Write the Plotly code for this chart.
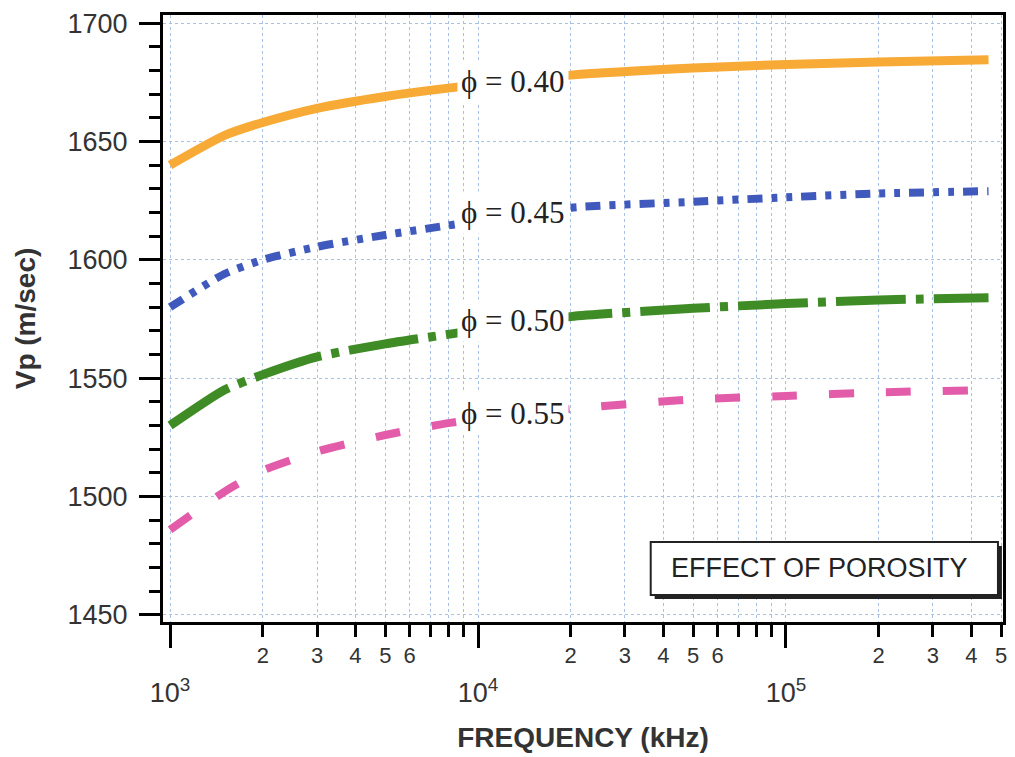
import plotly.graph_objects as go

# Frequency samples (kHz) and P-wave velocity (m/sec) for each porosity
freq_khz = [1000, 1500, 2000, 3000, 5000, 8000, 20000, 50000, 100000, 200000, 455000]
vp_phi040 = [1640, 1652.5, 1658, 1664, 1669, 1672.5, 1678, 1681, 1682.5, 1683.5, 1684.5]
vp_phi045 = [1580, 1594, 1600, 1605.5, 1610.5, 1614.5, 1622, 1624.5, 1626.4, 1628, 1629]
vp_phi050 = [1530, 1545, 1551.5, 1559, 1564.5, 1568.5, 1576, 1579.5, 1581.5, 1583, 1584]
vp_phi055 = [1486, 1502, 1511, 1519, 1526, 1531, 1537, 1541, 1542.5, 1544, 1545]

curve_labels = ["\u03d5 = 0.40", "\u03d5 = 0.45", "\u03d5 = 0.50", "\u03d5 = 0.55"]
label_vp = [1675.5, 1620, 1574.5, 1535]
label_freq_log = 4.115

y_ticks = [1450, 1500, 1550, 1600, 1650, 1700]
decades = [1000, 10000, 100000]
decade_text = ["10<sup>3</sup>", "10<sup>4</sup>", "10<sup>5</sup>"]
sub_mult = [2, 3, 4, 5, 6, 7, 8, 9]
sub_labelled = [2, 3, 4, 5, 6]

series = [
    (vp_phi040, "#F8AA36", "solid", 9),
    (vp_phi045, "#4059BD", "15px,9px,6px,9px,6px,9px", 8),
    (vp_phi050, "#3F8C26", "70px,10px,8px,10px", 9),
    (vp_phi055, "#E25CAA", "25px,32px", 8),
]

sub_vals, sub_text = [], []
for d in decades:
    for m in sub_mult:
        v = m * d
        if v <= 5e5:
            sub_vals.append(v)
            sub_text.append(str(m) if m in sub_labelled else "")

fig = go.Figure()
for vals, color, dash, w in series:
    fig.add_trace(go.Scatter(
        x=freq_khz, y=vals, mode="lines",
        line=dict(color=color, width=w, dash=dash, shape="spline", smoothing=0.6),
        showlegend=False, hoverinfo="skip",
    ))
# carrier trace so the decade axis is drawn
fig.add_trace(go.Scatter(x=freq_khz, y=vp_phi040, xaxis="x2", mode="lines",
                         line=dict(width=0), showlegend=False, hoverinfo="skip"))

grid_color = "#A9C1E3"
tick_font = dict(family="Liberation Sans, Arial", size=27, color="#333333")
x_range = [2.977, 5.705]

fig.update_layout(
    width=1015, height=757,
    margin=dict(l=163, r=8, t=15, b=135),
    paper_bgcolor="white", plot_bgcolor="white",
    xaxis=dict(
        type="log", range=x_range,
        tickmode="array", tickvals=sub_vals, ticktext=sub_text,
        ticks="outside", ticklen=12, tickwidth=3, tickcolor="black",
        tickfont=dict(family="Liberation Sans, Arial", size=22, color="#333333"),
        showgrid=True, gridcolor=grid_color, gridwidth=1, griddash="dot",
        showline=True, linecolor="black", linewidth=3, mirror=True,
        zeroline=False,
        title=dict(text="FREQUENCY (kHz)", standoff=60,
                   font=dict(family="Liberation Sans, Arial", size=28, color="#333333", weight="bold")),
    ),
    xaxis2=dict(
        type="log", range=x_range, overlaying="x", side="bottom", anchor="y",
        tickmode="array", tickvals=decades, ticktext=decade_text,
        ticks="outside", ticklen=25, tickwidth=3, tickcolor="black",
        ticklabelstandoff=22,
        tickfont=tick_font,
        showgrid=True, gridcolor=grid_color, gridwidth=1, griddash="dot",
        showline=False, zeroline=False,
    ),
    yaxis=dict(
        range=[1447, 1703.4],
        tickmode="array", tickvals=y_ticks,
        ticks="outside", ticklen=21, tickwidth=3, tickcolor="black",
        tickfont=tick_font, ticklabelstandoff=6,
        minor=dict(dtick=10, tick0=1450, ticks="outside", ticklen=11, tickwidth=3,
                   tickcolor="black", showgrid=False),
        showgrid=True, gridcolor=grid_color, gridwidth=1, griddash="dot",
        showline=True, linecolor="black", linewidth=3, mirror=True,
        zeroline=False,
        title=dict(text="Vp (m/sec)", standoff=24,
                   font=dict(family="Liberation Sans, Arial", size=28, color="#333333", weight="bold")),
    ),
)

# porosity labels sitting on the curves
for txt, yv in zip(curve_labels, label_vp):
    fig.add_annotation(
        x=label_freq_log, y=yv, xref="x", yref="y", text=txt, showarrow=False,
        xanchor="center", yanchor="middle",
        font=dict(family="Liberation Serif, Times New Roman", size=31, color="#222222"),
        bgcolor="white", borderpad=3,
    )

# boxed caption with a drop shadow
fig.add_shape(type="rect", xref="paper", yref="paper",
              x0=0.5853, x1=0.9987, y0=0.0379, y1=0.1252,
              fillcolor="#222222", line=dict(width=0))
fig.add_shape(type="rect", xref="paper", yref="paper",
              x0=0.5806, x1=0.9940, y0=0.0445, y1=0.1318,
              fillcolor="white", line=dict(color="#222222", width=2))
fig.add_annotation(
    x=0.781, y=0.089, xref="paper", yref="paper", text="EFFECT OF POROSITY",
    showarrow=False, xanchor="center", yanchor="middle",
    font=dict(family="Liberation Sans, Arial", size=27, color="#222222"),
)

fig.write_html("out.html")
